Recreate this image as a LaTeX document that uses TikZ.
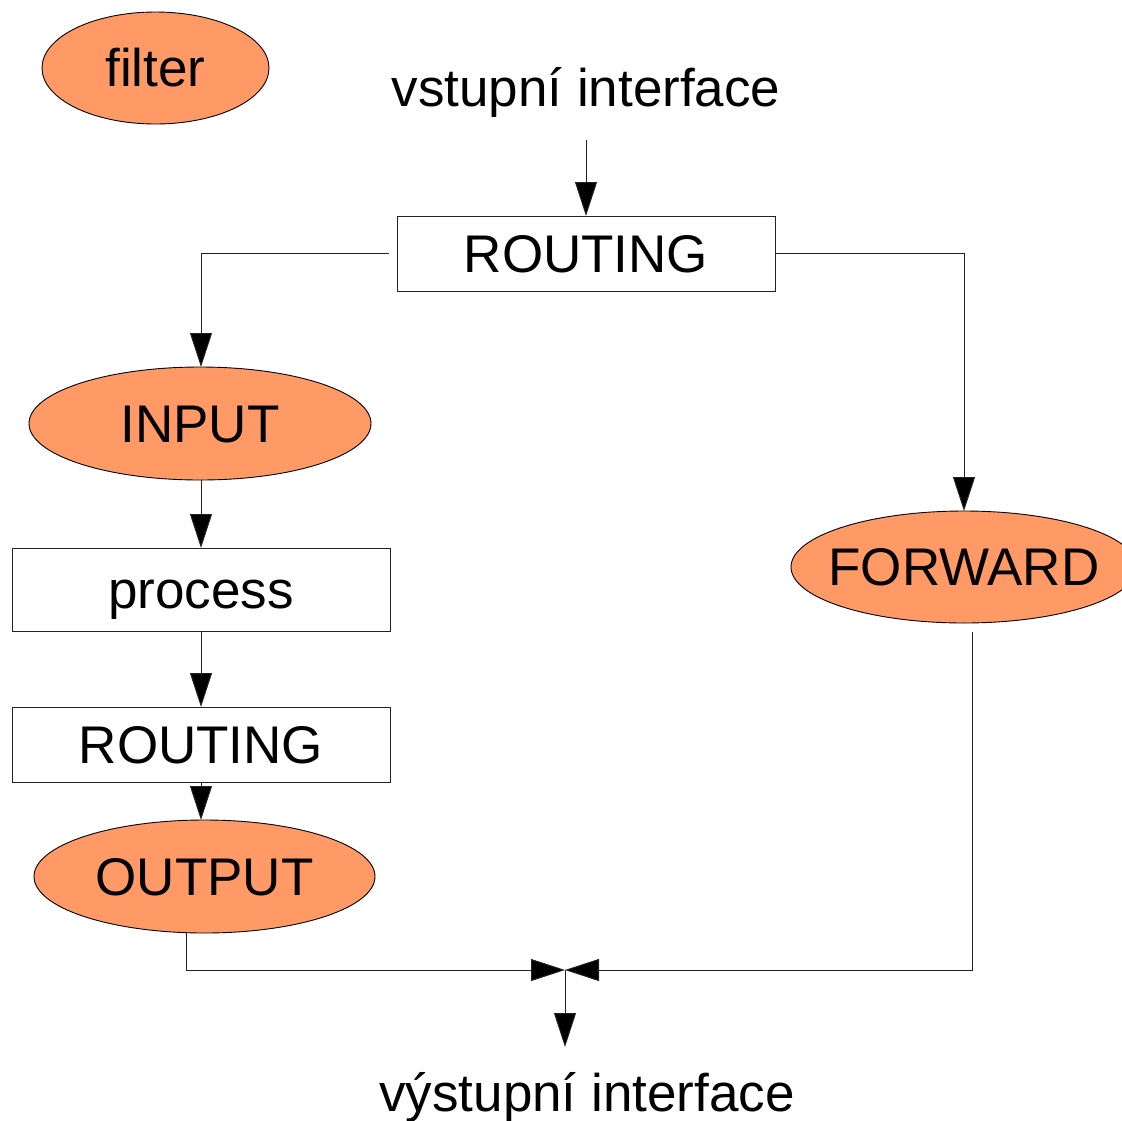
\documentclass[tikz,border=0pt]{standalone}
\usepackage{fontspec}
\setmainfont{Liberation Sans}
\usetikzlibrary{arrows.meta,shapes.geometric}
\definecolor{filtfill}{HTML}{FF9966}
\definecolor{linecol}{HTML}{222222}
\begin{document}
\begin{tikzpicture}[x=1pt,y=-1pt,
  font=\fontsize{53}{60}\selectfont,
  every node/.style={inner sep=0pt, outer sep=0pt, text height=38pt, text depth=1pt},
  filt/.style={ellipse, draw=black, line width=0.9pt, fill=filtfill},
  stepbox/.style={rectangle, draw=linecol, line width=1pt, fill=white},
  conn/.style={draw=linecol, line width=1pt},
  arr/.style={conn, -{Triangle[length=34pt,width=22pt,fill=black]}}
]
\useasboundingbox (0,0) rectangle (1122,1120);

\node[filt, minimum width=227pt, minimum height=112pt] (filter) at (155.5,68) {\makebox[0pt]{filter}};

\node[anchor=base] (vin) at (586,106) {vstupní interface};
\coordinate (vinstart) at (586,140);

\node[stepbox, minimum width=378pt, minimum height=75pt] (routing1) at (586,253.5) {\makebox[0pt]{ROUTING}};

\node[filt, minimum width=342pt, minimum height=113pt] (input) at (200,423.5) {\makebox[0pt]{INPUT}};
\node[stepbox, minimum width=378pt, minimum height=83pt] (process) at (201,589.5) {\makebox[0pt]{process}};
\node[stepbox, minimum width=378pt, minimum height=75pt] (routing2) at (201,744.5) {\makebox[0pt]{ROUTING}};
\node[filt, minimum width=341pt, minimum height=113pt] (output) at (204.5,876.5) {\makebox[0pt]{OUTPUT}};

\node[filt, minimum width=346pt, minimum height=112pt] (forward) at (964,567) {\makebox[0pt]{FORWARD}};

\coordinate (merge) at (565,970);
\coordinate (mout) at (565,1047);
\node[anchor=base] (vout) at (587,1111) {výstupní interface};

% connectors
\draw[arr] (vinstart) -- (routing1.north);
\draw[arr, shorten <=8pt] (routing1.west) -| (process.north |- input.north);
\draw[arr] (routing1.east) -| (forward.north);
\draw[arr] (process.north |- input.south) -- (process.north);
\draw[arr] (process.south) -- (routing2.north);
\draw[arr] (routing2.south) -- (routing2.south |- output.north);
\draw[arr] ([xshift=-18.5pt]output.south) |- (merge);
\draw[arr] ([xshift=8pt,yshift=-9pt]forward.south) |- (merge);
\draw[arr] (merge) -- (mout);
\end{tikzpicture}
\end{document}
